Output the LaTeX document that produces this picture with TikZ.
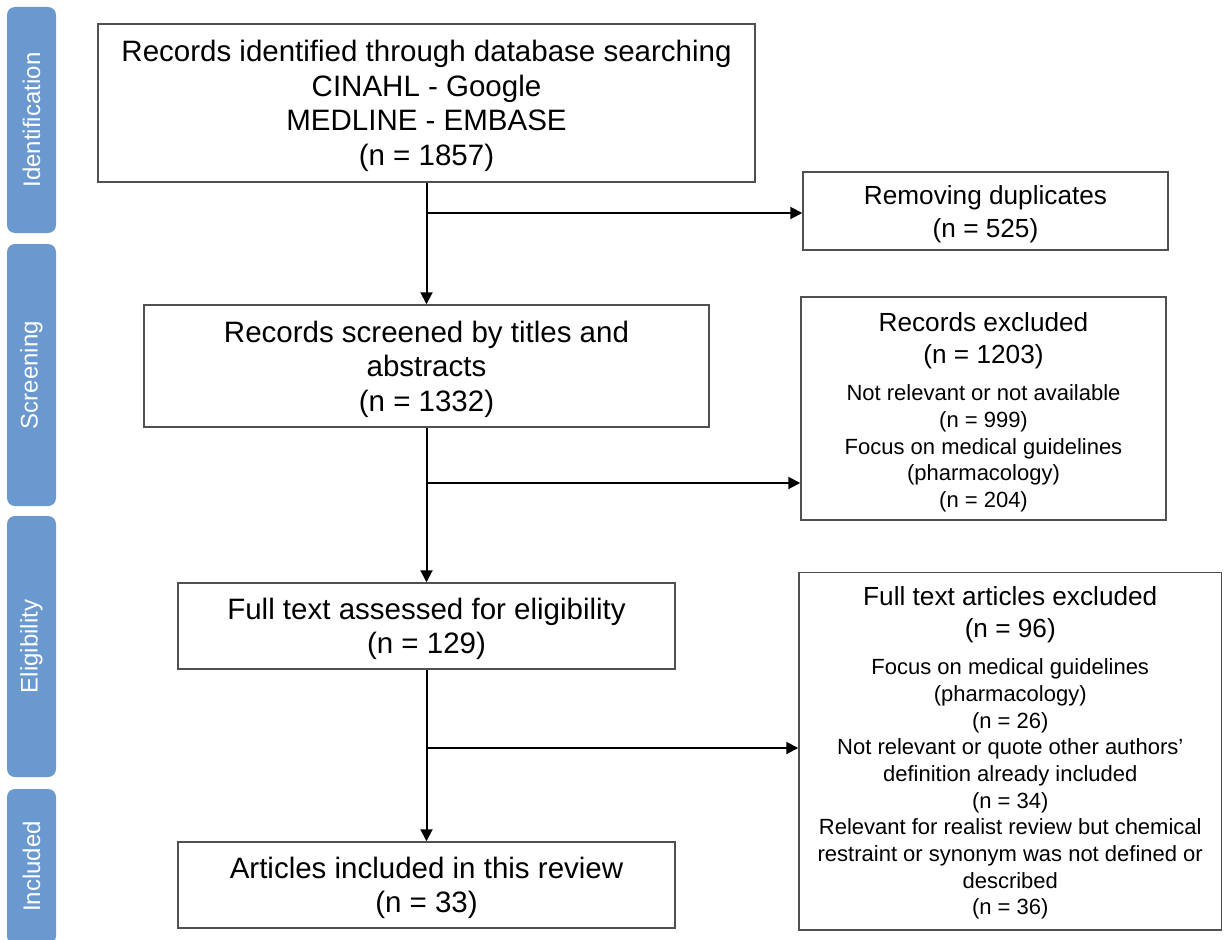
\documentclass[tikz,border=0pt]{standalone}
\usepackage{fontspec}
\setmainfont{Liberation Sans}
\usetikzlibrary{arrows.meta}
\definecolor{phase}{RGB}{106,153,208}
\definecolor{edge}{RGB}{80,80,80}
% an empty first row that lengthens the text block upwards, so that the
% lines sit a little lower in their box
\newcommand\headpad[1]{{}\\[#1]}

\begin{document}
\begin{tikzpicture}[x=1pt,y=-1pt,
  box/.style={draw=edge, line width=1.5pt, fill=white, inner sep=0pt, align=center},
  mainbox/.style={box, font=\fontsize{29.5}{34.5}\selectfont},
  sidebox/.style={box, font=\fontsize{22}{26.7}\selectfont},
  phasebar/.style={fill=phase, rounded corners=8pt, rotate=90, text=white,
    inner sep=0pt, minimum height=49pt, font=\fontsize{24}{28}\selectfont},
  flow/.style={line width=2pt, -{Triangle[length=12pt,width=12pt]}},
]
\useasboundingbox (0,0) rectangle (1225,939);
\fill[white] (0,0) rectangle (1225,939);
\clip (0,0) rectangle (1225,939);

% phase bars on the left
\node[phasebar, minimum width=226pt] (pid) at (31.5,120) {Identification};
\node[phasebar, minimum width=262pt] (psc) at (31.5,375) {Screening};
\node[phasebar, minimum width=261pt] (pel) at (31.5,646.5) {Eligibility};
\node[phasebar, minimum width=155pt] (pin) at (31.5,866.5) {Included};

% main column
\node[mainbox, minimum width=657pt, minimum height=158pt] (ident) at (426.5,103)
  {\headpad{-7pt}Records identified through database searching\\CINAHL - Google\\MEDLINE - EMBASE\\(n = 1857)};
\node[mainbox, minimum width=565pt, minimum height=122pt] (screen) at (426.5,366)
  {\headpad{-7pt}Records screened by titles and\\abstracts\\(n = 1332)};
\node[mainbox, minimum width=497pt, minimum height=86pt] (elig) at (426.5,626)
  {\headpad{-7pt}Full text assessed for eligibility\\(n = 129)};
\node[mainbox, minimum width=497pt, minimum height=86pt] (incl) at (426.5,885)
  {\headpad{-7pt}Articles included in this review\\(n = 33)};

% exclusion column
\node[box, font=\fontsize{26.2}{33}\selectfont, minimum width=365pt, minimum height=78pt] (dup) at (985.5,211)
  {\headpad{-8pt}Removing duplicates\\(n = 525)};
\node[sidebox, minimum width=365pt, minimum height=223pt] (rexc) at (983.5,408.5)
  {\headpad{-0.6pt}{\fontsize{26.2}{32}\selectfont Records excluded}\\[5.8pt]
   {\fontsize{26.2}{32}\selectfont (n = 1203)}\\[10.3pt]
   Not relevant or not available\\(n = 999)\\Focus on medical guidelines\\(pharmacology)\\(n = 204)};
\node[sidebox, minimum width=422.5pt, minimum height=357.5pt] (fexc) at (1010.25,751.25)
  {\headpad{-4.6pt}{\fontsize{26.2}{32}\selectfont Full text articles excluded}\\[5.8pt]
   {\fontsize{26.2}{32}\selectfont (n = 96)}\\[10.3pt]
   Focus on medical guidelines\\(pharmacology)\\(n = 26)\\
   Not relevant or quote other authors'\\definition already included\\(n = 34)\\
   Relevant for realist review but chemical\\restraint or synonym was not defined or\\described\\(n = 36)};

% branch points on the main line
\coordinate (j1) at (426.5,213);
\coordinate (j2) at (426.5,483);
\coordinate (j3) at (426.5,748);

% connectors
\draw[flow] (ident.south) -- (screen.north);
\draw[flow] (screen.south) -- (elig.north);
\draw[flow] (elig.south) -- (incl.north);
\draw[flow] (j1) -- (j1 -| dup.west);
\draw[flow] (j2) -- (j2 -| rexc.west);
\draw[flow] (j3) -- (j3 -| fexc.west);
\end{tikzpicture}
\end{document}
